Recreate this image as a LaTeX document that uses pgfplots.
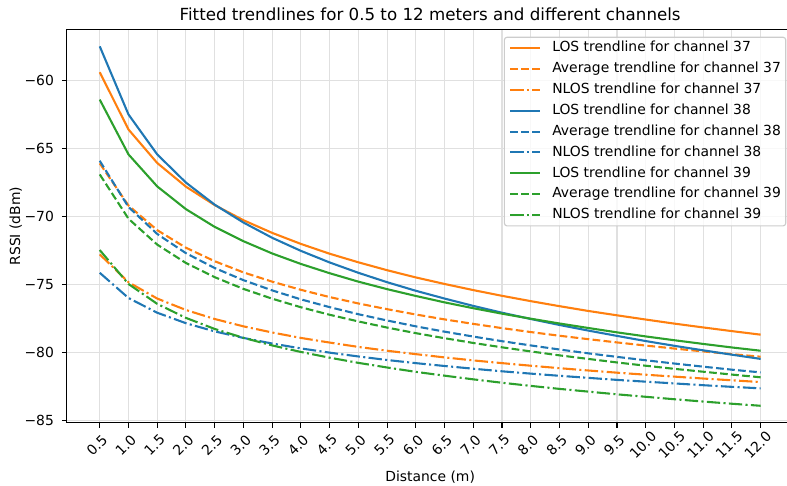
\documentclass[border=0pt]{standalone}
\usepackage{fontspec}
\setmainfont{DejaVu Sans}
\usepackage{pgfplots}
\usepackage{pgfplotstable}
\pgfplotsset{compat=1.18}
\definecolor{cO}{HTML}{FF7F0E}
\definecolor{cB}{HTML}{1F77B4}
\definecolor{cG}{HTML}{2CA02C}
\newcommand{\mm}{\symbol{"2212}}
\pgfplotstableread{
x oL oA oN bL bA bN gL gA gN
0.5 -59.42 -66.11 -72.79 -57.52 -65.92 -74.14 -61.43 -66.92 -72.47
1.0 -63.62 -69.20 -74.83 -62.52 -69.31 -75.99 -65.45 -70.17 -74.96
1.5 -66.08 -71.01 -76.03 -65.45 -71.29 -77.07 -67.80 -72.07 -76.42
2.0 -67.82 -72.30 -76.87 -67.52 -72.70 -77.84 -69.47 -73.42 -77.45
2.5 -69.17 -73.29 -77.53 -69.14 -73.79 -78.44 -70.77 -74.46 -78.26
3.0 -70.28 -74.11 -78.07 -70.45 -74.68 -78.92 -71.82 -75.32 -78.91
3.5 -71.21 -74.79 -78.52 -71.57 -75.43 -79.33 -72.72 -76.04 -79.47
4.0 -72.02 -75.39 -78.92 -72.53 -76.09 -79.69 -73.49 -76.67 -79.95
4.5 -72.74 -75.92 -79.26 -73.38 -76.66 -80.00 -74.17 -77.22 -80.37
5.0 -73.37 -76.39 -79.58 -74.14 -77.18 -80.28 -74.79 -77.71 -80.75
5.5 -73.95 -76.81 -79.86 -74.83 -77.64 -80.54 -75.34 -78.16 -81.09
6.0 -74.48 -77.20 -80.11 -75.46 -78.07 -80.77 -75.84 -78.57 -81.41
6.5 -74.96 -77.56 -80.35 -76.03 -78.46 -80.98 -76.31 -78.94 -81.69
7.0 -75.41 -77.89 -80.57 -76.57 -78.82 -81.18 -76.74 -79.29 -81.96
7.5 -75.83 -78.20 -80.77 -77.07 -79.16 -81.37 -77.14 -79.61 -82.21
8.0 -76.22 -78.49 -80.96 -77.53 -79.47 -81.54 -77.51 -79.91 -82.44
8.5 -76.59 -78.76 -81.14 -77.97 -79.77 -81.70 -77.86 -80.20 -82.66
9.0 -76.94 -79.01 -81.31 -78.38 -80.05 -81.85 -78.19 -80.46 -82.86
9.5 -77.26 -79.25 -81.47 -78.77 -80.31 -82.00 -78.51 -80.72 -83.06
10.0 -77.57 -79.48 -81.62 -79.15 -80.56 -82.13 -78.81 -80.96 -83.24
10.5 -77.87 -79.70 -81.76 -79.50 -80.80 -82.26 -79.09 -81.19 -83.42
11.0 -78.15 -79.91 -81.90 -79.83 -81.03 -82.39 -79.36 -81.40 -83.59
11.5 -78.42 -80.11 -82.03 -80.15 -81.25 -82.51 -79.62 -81.61 -83.75
12.0 -78.68 -80.30 -82.16 -80.46 -81.45 -82.62 -79.86 -81.81 -83.90
}\datatable
\tikzset{
  ls/.style={line width=1.5pt, line join=round},
  ds/.style={line width=1.5pt, line join=round, dash pattern=on 5.55pt off 2.4pt},
  dds/.style={line width=1.5pt, line join=round, dash pattern=on 9.6pt off 2.4pt on 1.5pt off 2.4pt},
}
\begin{document}
\begin{tikzpicture}
\begin{axis}[
  scale only axis, width=523.2pt, height=283.2pt,
  xmin=-0.075, xmax=12.575, ymin=-85.15, ymax=-56.27,
  xtick={0.5,1,1.5,2,2.5,3,3.5,4,4.5,5,5.5,6,6.5,7,7.5,8,8.5,9,9.5,10,10.5,11,11.5,12},
  xticklabels={0.5,1.0,1.5,2.0,2.5,3.0,3.5,4.0,4.5,5.0,5.5,6.0,6.5,7.0,7.5,8.0,8.5,9.0,9.5,10.0,10.5,11.0,11.5,12.0},
  ytick={-85,-80,-75,-70,-65,-60},
  yticklabels={{\mm85},{\mm80},{\mm75},{\mm70},{\mm65},{\mm60}},
  tick align=outside, xtick pos=bottom, ytick pos=left,
  major tick length=3.5pt,
  every tick/.style={black, line width=0.8pt},
  axis line style={line width=0.8pt},
  grid=major, major grid style={line width=0.8pt, color=black!12},
  tick label style={font=\fontsize{10}{12}\selectfont},
  x tick label style={rotate=45, anchor=center, xshift=-10.25pt, yshift=-7.42pt},
  y tick label style={anchor=east, inner sep=0pt, xshift=-5.5pt},
  title={Fitted trendlines for 0.5 to 12 meters and different channels},
  title style={font=\fontsize{12}{14}\selectfont, at={(0.5,1)}, anchor=base},
  xlabel={Distance (m)},
  xlabel style={font=\fontsize{10}{12}\selectfont, at={([yshift=-42pt]axis description cs:0.5,0)}, anchor=base},
  ylabel={RSSI (dBm)},
  ylabel style={font=\fontsize{10}{12}\selectfont, at={([xshift=-33.6pt]axis description cs:0,0.5)}, anchor=base, rotate=0},
  legend cell align=left,
  legend image code/.code={\draw[#1] (0pt,0pt) -- (21.6pt,0pt);},
  legend style={at={(1,1)}, anchor=north east, xshift=-5.3pt, yshift=-5.3pt,
    draw=black!20, line width=0.8pt, rounded corners=2pt, fill=white, fill opacity=0.8, text opacity=1,
    font=\fontsize{10}{12}\selectfont, inner xsep=3.5pt, inner ysep=3pt, row sep=5.2pt,
    nodes={inner xsep=0pt, inner ysep=0pt, text height=7.6pt, text depth=2.2pt},
    /tikz/every odd column/.append style={column sep=7.9pt}},
]
\addplot[cO, ls] table[x=x, y=oL] {\datatable};
\addlegendentry{LOS trendline for channel 37}
\addplot[cO, ds] table[x=x, y=oA] {\datatable};
\addlegendentry{Average trendline for channel 37}
\addplot[cO, dds] table[x=x, y=oN] {\datatable};
\addlegendentry{NLOS trendline for channel 37}
\addplot[cB, ls] table[x=x, y=bL] {\datatable};
\addlegendentry{LOS trendline for channel 38}
\addplot[cB, ds] table[x=x, y=bA] {\datatable};
\addlegendentry{Average trendline for channel 38}
\addplot[cB, dds] table[x=x, y=bN] {\datatable};
\addlegendentry{NLOS trendline for channel 38}
\addplot[cG, ls] table[x=x, y=gL] {\datatable};
\addlegendentry{LOS trendline for channel 39}
\addplot[cG, ds] table[x=x, y=gA] {\datatable};
\addlegendentry{Average trendline for channel 39}
\addplot[cG, dds] table[x=x, y=gN] {\datatable};
\addlegendentry{NLOS trendline for channel 39}
\coordinate (BL) at (rel axis cs:0,0);
\coordinate (TR) at (rel axis cs:1,1);
\end{axis}
\pgfresetboundingbox
\useasboundingbox ([xshift=-48pt,yshift=-44.9pt]BL) rectangle ([xshift=-4.8pt,yshift=21.1pt]TR);
\end{tikzpicture}
\end{document}
